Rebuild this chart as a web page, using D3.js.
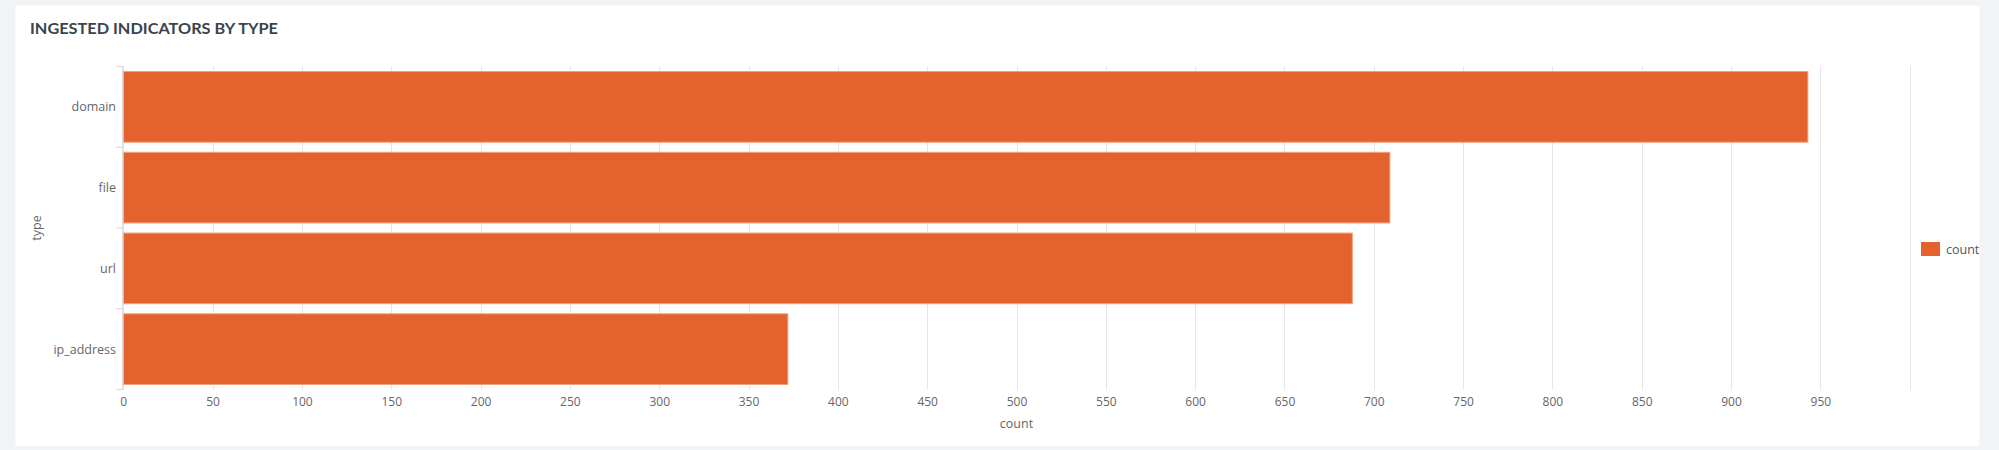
<!DOCTYPE html>
<html>
<head>
<meta charset="utf-8">
<script src="https://cdn.jsdelivr.net/npm/d3@7"></script>
<style>
  html, body { margin: 0; padding: 0; background: #f2f3f5; }
  svg { display: block; }
  text { font-family: "Open Sans", Lato, sans-serif; }
</style>
</head>
<body>
<svg id="chart" width="1999" height="450"></svg>
<script>
const title = "INGESTED INDICATORS BY TYPE";
const categories = ["domain", "file", "url", "ip_address"];
const counts = [943, 709, 688, 372];
const xTicks = [0, 50, 100, 150, 200, 250, 300, 350, 400, 450, 500, 550, 600, 650, 700, 750, 800, 850, 900, 950];
const gridTicks = xTicks.concat([1000]);
const seriesName = "count";
const xTitle = "count";
const yTitle = "type";

const svg = d3.select("#chart");
const barColor = "#e4622e";
const labelFont = "'Open Sans', Lato, sans-serif";

// card
svg.append("rect").attr("x", 15.5).attr("y", 5.5).attr("width", 1964).attr("height", 440.5)
  .attr("rx", 2).attr("fill", "#ffffff");

svg.append("text").attr("x", 30).attr("y", 33.5)
  .attr("font-size", 16).attr("font-weight", 700).attr("fill", "#3b434b")
  .style("font-family", "Lato, 'Open Sans', sans-serif")
  .attr("textLength", 248).attr("lengthAdjust", "spacingAndGlyphs")
  .text(title);

const x = d3.scaleLinear().domain([0, 1000]).range([123.3, 1909.7]);
const y = d3.scaleBand().domain(categories).range([66.5, 389.5]).paddingInner(0.125).paddingOuter(0.0625);

// grid
svg.append("g").selectAll("line").data(gridTicks).join("line")
  .attr("x1", d => Math.round(x(d)) + 0.5).attr("x2", d => Math.round(x(d)) + 0.5)
  .attr("y1", 66.5).attr("y2", 389.5)
  .attr("stroke", "#e6e6e6").attr("stroke-width", 1);

// x axis labels
const xAxis = d3.axisBottom(x).tickValues(xTicks).tickSize(0).tickPadding(0);
const gx = svg.append("g").attr("transform", "translate(0,397.5)").call(xAxis);
gx.select(".domain").remove();
gx.selectAll("text").attr("font-size", 12).attr("fill", "#666").attr("dy", "0.71em")
  .style("font-family", labelFont);

// bars
svg.append("g").selectAll("rect").data(categories).join("rect")
  .attr("x", x(0)).attr("y", d => y(d))
  .attr("width", (d, i) => x(counts[i]) - x(0))
  .attr("height", y.bandwidth())
  .attr("fill", barColor)
  .attr("stroke", "#f2a07f").attr("stroke-width", 1);

// y axis: line + band-boundary ticks
const yAxisG = svg.append("g");
yAxisG.append("line").attr("x1", 122.8).attr("x2", 122.8).attr("y1", 66).attr("y2", 390)
  .attr("stroke", "#d9d9d9").attr("stroke-width", 1.2);
const bounds = categories.map(c => y(c) - y.step() * y.paddingInner() / 2);
bounds.push(y(categories[categories.length - 1]) + y.bandwidth() + y.step() * y.paddingInner() / 2);
yAxisG.selectAll("line.tk").data(bounds).join("line").attr("class", "tk")
  .attr("x1", 116.5).attr("x2", 122.8)
  .attr("y1", d => d).attr("y2", d => d)
  .attr("stroke", "#d9d9d9").attr("stroke-width", 1.2);
yAxisG.selectAll("text").data(categories).join("text")
  .attr("x", 116).attr("y", d => y(d) + y.bandwidth() / 2)
  .attr("dy", "0.35em").attr("text-anchor", "end")
  .attr("font-size", 12.5).attr("fill", "#666")
  .text(d => d);

// axis titles
svg.append("text").attr("x", (x(0) + x(1000)) / 2).attr("y", 423.5).attr("dy", "0.35em")
  .attr("text-anchor", "middle").attr("font-size", 12.5).attr("fill", "#666").text(xTitle);
svg.append("text").attr("transform", "translate(36.5,228) rotate(-90)").attr("dy", "0.35em")
  .attr("text-anchor", "middle").attr("font-size", 12.5).attr("fill", "#666").text(yTitle);

// legend
const lg = svg.append("g").attr("transform", "translate(1921,242)");
lg.append("rect").attr("width", 19).attr("height", 14).attr("fill", barColor);
lg.append("text").attr("x", 25).attr("y", 7.5).attr("dy", "0.35em")
  .attr("font-size", 12.5).attr("fill", "#555").text(seriesName);
</script>
</body>
</html>
